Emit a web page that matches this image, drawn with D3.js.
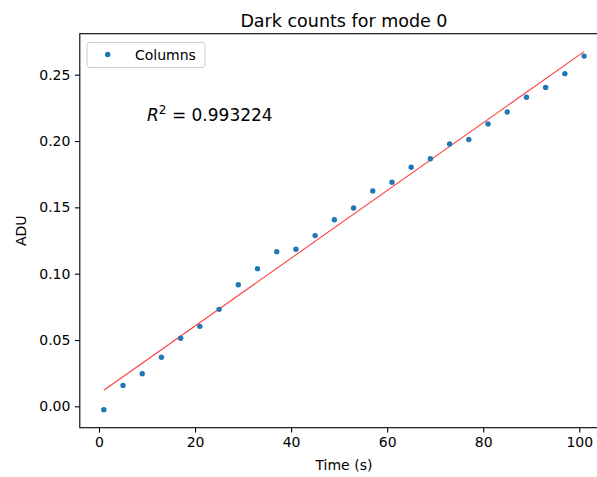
<!DOCTYPE html>
<html>
<head>
<meta charset="utf-8">
<script src="https://cdn.jsdelivr.net/npm/d3@7"></script>
<style>
  body { margin: 0; background: #fff; }
  svg { display: block; font-family: "DejaVu Sans", sans-serif; }
</style>
</head>
<body>
<div id="chart"></div>
<script>
// time of each column (s) and the dark counts (ADU)
var times = [1, 5, 9, 13, 17, 21, 25, 29, 33, 37, 41, 45, 49, 53, 57, 61, 65, 69, 73, 77, 81, 85, 89, 93, 97, 101];
var counts = [-0.0026, 0.0158, 0.0246, 0.0370, 0.0513, 0.0603, 0.0731, 0.0917, 0.1038, 0.1166, 0.1184, 0.1287, 0.1407,
	0.1495, 0.1624, 0.1689, 0.1802, 0.1866, 0.1978, 0.2011, 0.2129, 0.2219, 0.2330, 0.2403, 0.2508, 0.2640];
// linear fit shown in red
var fitSlope = 0.002553;
var fitIntercept = 0.00955;
var rSquared = "0.993224";
var xTicks = [0, 20, 40, 60, 80, 100];
var yTicks = [0.00, 0.05, 0.10, 0.15, 0.20, 0.25];

var width = 597,
	height = 477,
	margin = {top: 33.7, left: 79.8, bottom: 49.3},
	plotW = 528.3,
	plotH = height - margin.top - margin.bottom;

var svg = d3.select('#chart').append('svg')
	.attr('width', width)
	.attr('height', height);

var x = d3.scaleLinear().domain([-4, 106]).range([margin.left, margin.left + plotW]);
var y = d3.scaleLinear().domain([-0.0161, 0.2809]).range([margin.top + plotH, margin.top]);

var data = times.map(function(t, i) { return {t: t, v: counts[i]}; });

// fit line
var fitLine = d3.line()
	.x(function(d) { return x(d); })
	.y(function(d) { return y(fitIntercept + fitSlope * d); });
svg.append('path')
	.datum([times[0], times[times.length - 1]])
	.attr('d', fitLine)
	.attr('fill', 'none')
	.attr('stroke', 'red')
	.attr('stroke-opacity', 0.75)
	.attr('stroke-width', 1.1);

// points
svg.append('g').selectAll('circle')
	.data(data)
	.enter().append('circle')
		.attr('cx', function(d) { return x(d.t); })
		.attr('cy', function(d) { return y(d.v); })
		.attr('r', 2.7)
		.attr('fill', '#1f77b4');

// axes
var xAxis = svg.append('g')
	.attr('transform', 'translate(0,' + (margin.top + plotH) + ')')
	.call(d3.axisBottom(x).tickValues(xTicks).tickSize(4.9).tickPadding(4.5).tickFormat(d3.format('d')));
var yAxis = svg.append('g')
	.attr('transform', 'translate(' + margin.left + ',0)')
	.call(d3.axisLeft(y).tickValues(yTicks).tickSize(4.9).tickPadding(4.5).tickFormat(d3.format('.2f')));

[xAxis, yAxis].forEach(function(a) {
	a.select('.domain').remove();
	a.selectAll('.tick line').attr('stroke', '#000').attr('stroke-width', 1.1);
	a.selectAll('.tick text').attr('fill', '#000').style('font-size', '14px').style('font-family', '"DejaVu Sans"');
});

// frame
svg.append('rect')
	.attr('x', margin.left)
	.attr('y', margin.top)
	.attr('width', plotW)
	.attr('height', plotH)
	.attr('fill', 'none')
	.attr('stroke', '#000')
	.attr('stroke-width', 1.1);

// title and axis labels
svg.append('text')
	.attr('x', margin.left + plotW / 2)
	.attr('y', 26.5)
	.attr('text-anchor', 'middle')
	.style('font-size', '17.5px')
	.text('Dark counts for mode 0');

svg.append('text')
	.attr('x', margin.left + plotW / 2)
	.attr('y', 470)
	.attr('text-anchor', 'middle')
	.style('font-size', '14px')
	.text('Time (s)');

svg.append('text')
	.attr('transform', 'translate(26,' + (margin.top + plotH / 2) + ') rotate(-90)')
	.attr('text-anchor', 'middle')
	.style('font-size', '14px')
	.text('ADU');

// R^2 annotation
var r2 = svg.append('text')
	.attr('x', x(10))
	.attr('y', y(0.215))
	.style('font-size', '17px');
r2.append('tspan').style('font-style', 'italic').text('R');
r2.append('tspan').attr('dy', -7).style('font-size', '12px').text('2');
r2.append('tspan').attr('dy', 7).text(' = ' + rSquared);

// legend
var legend = svg.append('g');
legend.append('rect')
	.attr('x', 87)
	.attr('y', 42.5)
	.attr('width', 118)
	.attr('height', 25)
	.attr('rx', 3)
	.attr('fill', '#fff')
	.attr('fill-opacity', 0.8)
	.attr('stroke', '#ccc')
	.attr('stroke-width', 1);
legend.append('circle')
	.attr('cx', 107.7)
	.attr('cy', 54.5)
	.attr('r', 2.7)
	.attr('fill', '#1f77b4');
legend.append('text')
	.attr('x', 135)
	.attr('y', 59.5)
	.style('font-size', '14px')
	.text('Columns');
</script>
</body>
</html>
